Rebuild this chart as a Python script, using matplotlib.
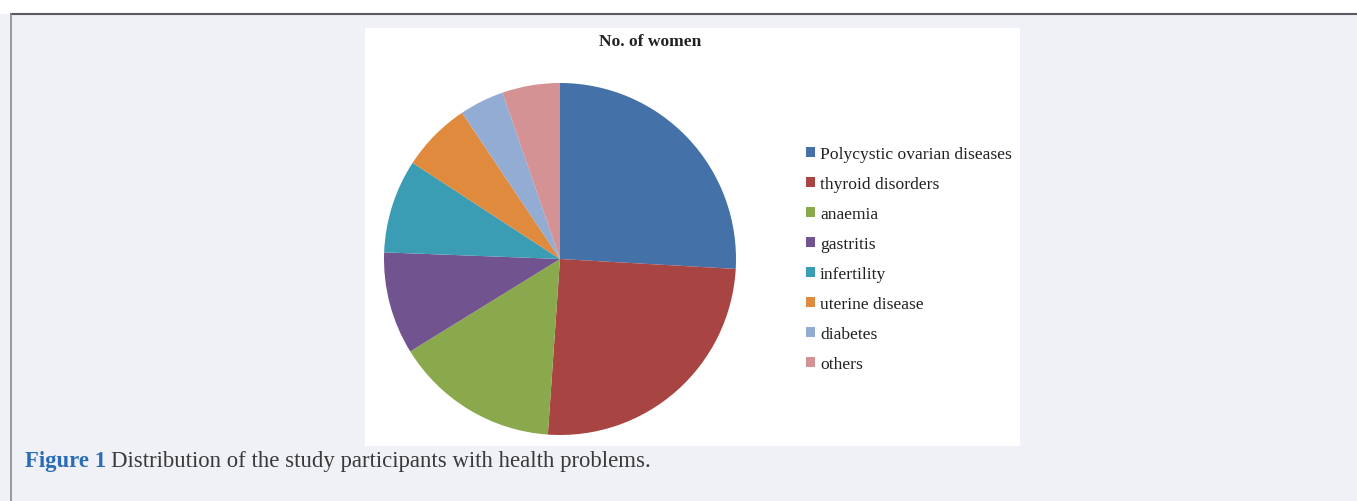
import matplotlib
matplotlib.use("Agg")
import matplotlib.pyplot as plt
from matplotlib.patches import Rectangle
from matplotlib.lines import Line2D

# data (share of women)
labels = ["Polycystic ovarian diseases", "thyroid disorders", "anaemia",
          "gastritis", "infertility", "uterine disease", "diabetes", "others"]
values = [25.9, 25.2, 15.1, 9.4, 8.6, 6.4, 4.1, 5.3]
colors = ["#4471a7", "#a84442", "#8aa84c", "#71548f",
          "#3b9db4", "#df8a3d", "#92acd4", "#d49294"]

W, H = 1357, 502
fig = plt.figure(figsize=(W / 100, H / 100), dpi=100)
fig.patch.set_facecolor("#f0f1f6")


def fx(px):
    return px / W


def fy(py):
    return 1 - py / H


# page frame: white strip on top, border lines
fig.patches.append(Rectangle((0, fy(14.5)), 1, 1 - fy(14.5), transform=fig.transFigure,
                             facecolor="white", edgecolor="none", zorder=-2))
fig.lines.append(Line2D([fx(11), 1], [fy(14.5), fy(14.5)], transform=fig.transFigure,
                        color="#5a5a5e", lw=1.5))
fig.lines.append(Line2D([fx(11), fx(11)], [0, fy(14.5)], transform=fig.transFigure,
                        color="#8a8a8e", lw=1.2))

# white chart panel
fig.patches.append(Rectangle((fx(365), fy(447)), fx(1020) - fx(365), fy(29) - fy(447),
                             transform=fig.transFigure, facecolor="white",
                             edgecolor="none", zorder=-2))

# pie
ax = fig.add_axes([fx(384), fy(436), fx(736) - fx(384), fy(84) - fy(436)])
wedges, _ = ax.pie(values, colors=colors, startangle=90, counterclock=False,
                   radius=1.0, wedgeprops=dict(linewidth=0))
ax.set_xlim(-1, 1)
ax.set_ylim(-1, 1)
ax.set_aspect("auto")
ax.axis("off")

fig.text(fx(650), fy(42), "No. of women", ha="center", va="center",
         family="Liberation Serif", fontweight="bold", fontsize=12.6, color="#222222")

leg = fig.legend(wedges, labels, loc="upper left", bbox_to_anchor=(fx(806), fy(147)),
                 frameon=False, prop=dict(family="Liberation Serif", size=12.6),
                 handlelength=0.5, handleheight=0.5, handletextpad=0.3,
                 labelspacing=0.8, borderaxespad=0, borderpad=0)
for t in leg.get_texts():
    t.set_color("#222222")

# caption
cap1 = fig.text(fx(25), fy(462), "Figure 1", ha="left", va="center",
                family="Liberation Serif", fontweight="bold", fontsize=16.4, color="#2b6cb8")
fig.canvas.draw()
bb = cap1.get_window_extent()
fig.text(bb.x1 / W + fx(5), fy(462),
         "Distribution of the study participants with health problems.",
         ha="left", va="center", family="Liberation Serif", fontsize=16.4, color="#3a3a3a")

fig.savefig("out.png", dpi=100, facecolor=fig.get_facecolor())
